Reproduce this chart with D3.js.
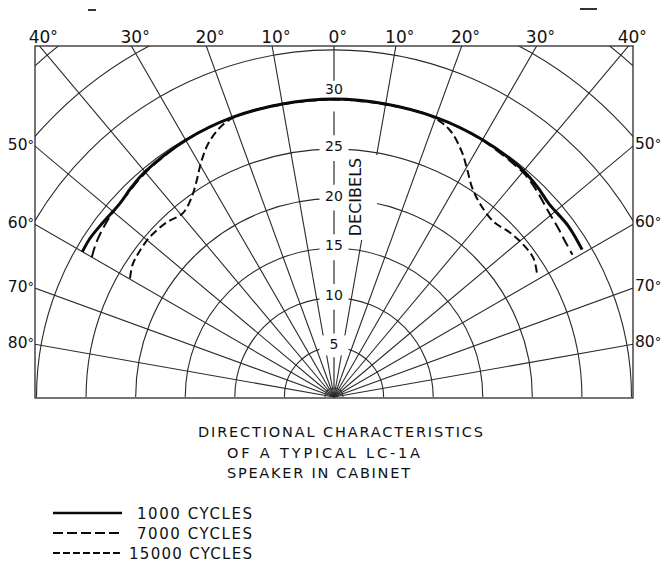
<!DOCTYPE html>
<html>
<head>
<meta charset="utf-8">
<script src="https://cdn.jsdelivr.net/npm/d3@7"></script>
<style>
  html, body { margin: 0; padding: 0; background: #fff; }
  svg text { font-family: "DejaVu Sans", "Liberation Sans", sans-serif; fill: #111; }
</style>
</head>
<body>
<svg id="chart" width="663" height="562"></svg>
<script>
// ---------------- DATA ----------------
const gridAngles = [-80, -70, -60, -50, -40, -30, -20, -10, 0, 10, 20, 30, 40, 50, 60, 70, 80];
const angleTickLabels = ["80", "70", "60", "50", "40", "30", "20", "10", "0", "10", "20", "30", "40", "50", "60", "70", "80"];
const gridCircles = [5, 10, 15, 20, 25, 30, 35, 40, 45];
const dbTicks = [5, 10, 15, 20, 25, 30];
const dbTickLabels = ["5", "10", "15", "20", "25", "30"];

const seriesNames = ["1000 CYCLES", "7000 CYCLES", "15000 CYCLES"];

const angles1000 = [-60, -57, -53, -48, -44, -40, -30, -20, -10, 0, 10, 20, 30, 39, 44, 48, 54, 59.3];
const db1000     = [29.3, 29.35, 29.2, 29.1, 29.4, 29.65, 29.9, 30, 30, 30.05, 30, 30, 29.95, 29.8, 29.5, 29.15, 29.25, 29.1];

const angles7000 = [-60, -56.8, -51.4, -45.7, -40, -30, -20, -10, 0, 10, 20, 30, 40, 42.4, 45, 49, 53, 56, 59.2];
const db7000     = [28.2, 28.6, 29.0, 29.2, 29.55, 29.9, 30, 30, 30, 30, 30, 29.9, 29.6, 29.4, 29.1, 28.6, 28.3, 28.1, 28.0];

const angles15000 = [-59.8, -56.7, -53.2, -48.9, -43.9, -39.4, -35.6, -32.5, -29.3, -25.9, -21.3, -15, 0, 15, 19.9, 23.6, 27.5, 30.1, 33.4, 37.2, 42.3, 47.1, 51.2, 55.2, 59.0];
const db15000     = [23.8, 24.3, 24.5, 24.6, 24.4, 24.0, 24.7, 25.8, 27.3, 28.7, 29.8, 30, 30, 30, 29.9, 29.3, 27.9, 26.7, 25.3, 24.4, 23.9, 24.3, 24.5, 24.5, 23.9];

const titleLines = ["DIRECTIONAL CHARACTERISTICS", "OF A TYPICAL LC-1A", "SPEAKER IN CABINET"];
const axisTitle = "DECIBELS";

// ---------------- LAYOUT ----------------
const svg = d3.select("#chart");
const cx = 334, cy = 397;
const box = { x0: 35, x1: 633, y0: 46, y1: 398 };
const r = d3.scaleLinear().domain([0, 30]).range([0, 297.5]);
const rad = d => d * Math.PI / 180;
const gridColor = "#2a2a2a";

svg.append("defs").append("clipPath").attr("id", "boxclip")
  .append("rect").attr("x", box.x0).attr("y", box.y0)
  .attr("width", box.x1 - box.x0).attr("height", box.y1 - box.y0);

const grid = svg.append("g").attr("clip-path", "url(#boxclip)");

// concentric circles (upper half)
const arcGen = d3.arc().startAngle(-Math.PI / 2).endAngle(Math.PI / 2);
grid.selectAll("path.circ").data(gridCircles).join("path")
  .attr("class", "circ")
  .attr("transform", `translate(${cx},${cy})`)
  .attr("d", d => arcGen({ innerRadius: r(d), outerRadius: r(d) }))
  .attr("fill", "none").attr("stroke", gridColor).attr("stroke-width", 1.1);

// small hub semicircle
grid.append("path")
  .attr("transform", `translate(${cx},${cy})`)
  .attr("d", arcGen({ innerRadius: 9, outerRadius: 9 }))
  .attr("fill", "none").attr("stroke", gridColor).attr("stroke-width", 1.1);

// white backgrounds behind scale labels (break the circles)
const labelBg = svg.append("g");
labelBg.selectAll("rect").data(dbTicks.filter(v => v !== 30)).join("rect")
  .attr("x", cx - 14.5).attr("width", 29)
  .attr("y", d => cy - r(d) - 12).attr("height", 20)
  .attr("fill", "#fff");
// background behind DECIBELS
labelBg.append("rect").attr("x", 347).attr("y", 155).attr("width", 30).attr("height", 85).attr("fill", "#fff");

// radial lines (0° handled separately as broken line)
const radialLen = 700;
grid.selectAll("line.rad").data(gridAngles.filter(a => a !== 0)).join("line")
  .attr("class", "rad")
  .attr("x1", cx).attr("y1", cy)
  .attr("x2", a => cx + radialLen * Math.sin(rad(a)))
  .attr("y2", a => cy - radialLen * Math.cos(rad(a)))
  .attr("stroke", gridColor).attr("stroke-width", 1.1);

// 0° line broken around the scale labels
const zeroSegs = [[0, dbTicks[0] - 1.0]];
for (let i = 0; i < dbTicks.length - 1; i++) zeroSegs.push([dbTicks[i] + 1.4, dbTicks[i] + 3.8]);
zeroSegs.push([dbTicks[dbTicks.length - 1] + 1.9, 40]);
grid.selectAll("line.zero").data(zeroSegs).join("line")
  .attr("class", "zero")
  .attr("x1", cx).attr("x2", cx)
  .attr("y1", d => cy - r(d[0])).attr("y2", d => cy - r(d[1]))
  .attr("stroke", gridColor).attr("stroke-width", 1.2);

// box frame
svg.append("rect").attr("x", box.x0).attr("y", box.y0)
  .attr("width", box.x1 - box.x0).attr("height", box.y1 - box.y0)
  .attr("fill", "none").attr("stroke", gridColor).attr("stroke-width", 1.3);

// ---------------- ANGLE LABELS ----------------
const angLab = svg.append("g").attr("font-size", 17);
gridAngles.forEach((a, i) => {
  const txt = angleTickLabels[i];
  if (Math.abs(a) <= 40) {
    const x = cx + (cy - box.y0) * Math.tan(rad(a));
    const t = angLab.append("text").attr("x", x).attr("y", 43).attr("text-anchor", "middle").text(txt);
    const w = t.node().getComputedTextLength();
    angLab.append("text").attr("x", x + w / 2).attr("y", 42).attr("font-size", 15).text("°");
  } else {
    const dx = a < 0 ? cx - box.x0 : box.x1 - cx;
    const y = cy - dx / Math.tan(rad(Math.abs(a)));
    if (a < 0) {
      angLab.append("text").attr("x", box.x0 - 1).attr("y", y + 4).attr("text-anchor", "end")
        .attr("font-size", 15.5)
        .text(txt).append("tspan").attr("font-size", 13).attr("dy", -1).text("°");
    } else {
      angLab.append("text").attr("x", box.x1 + 2).attr("y", y + 3).attr("text-anchor", "start")
        .attr("font-size", 15.5)
        .text(txt).append("tspan").attr("font-size", 13).attr("dy", -1).text("°");
    }
  }
});

// ---------------- SCALE LABELS ----------------
svg.append("g").attr("font-size", 14).selectAll("text").data(dbTicks).join("text")
  .attr("x", cx).attr("text-anchor", "middle")
  .attr("y", d => d === 30 ? cy - r(d) - 5.5 : cy - r(d) + 2)
  .text((d, i) => dbTickLabels[i]);

svg.append("text").attr("transform", "translate(361,197) rotate(-90)")
  .attr("text-anchor", "middle").attr("font-size", 16).text(axisTitle);

// ---------------- DATA CURVES ----------------
const zip = (as, vs) => as.map((a, i) => ({ a, v: vs[i] }));
const radial = d3.lineRadial()
  .angle(d => rad(d.a)).radius(d => r(d.v))
  .curve(d3.curveCatmullRom.alpha(0.5));

const seriesStyles = [
  { w: 3.0, dash: null },
  { w: 2.0, dash: "11,5" },
  { w: 2.0, dash: "8,4" }
];
const seriesData = [zip(angles7000, db7000), zip(angles15000, db15000), zip(angles1000, db1000)];
const seriesStyleOrder = [seriesStyles[1], seriesStyles[2], seriesStyles[0]];

const curves = svg.append("g").attr("transform", `translate(${cx},${cy})`);
seriesData.forEach((pts, i) => {
  const s = seriesStyleOrder[i];
  curves.append("path").attr("d", radial(pts))
    .attr("fill", "none").attr("stroke", "#0a0a0a")
    .attr("stroke-width", s.w)
    .attr("stroke-dasharray", s.dash)
    .attr("stroke-linecap", "butt");
});

// ---------------- TITLE ----------------
const title = svg.append("g").attr("font-size", 14.5);
const titlePos = [{ x: 198, y: 437, w: 285 }, { x: 227, y: 458, w: 193 }, { x: 227, y: 478, w: 183 }];
titleLines.forEach((t, i) => {
  title.append("text").attr("x", titlePos[i].x).attr("y", titlePos[i].y)
    .attr("textLength", titlePos[i].w).attr("lengthAdjust", "spacing").text(t);
});

// ---------------- LEGEND ----------------
const legend = svg.append("g");
const legPos = [{ y: 513, tx: 137 }, { y: 533, tx: 137 }, { y: 553, tx: 129 }];
const legendDash = [null, "10,4", "7,3"];
seriesNames.forEach((name, i) => {
  legend.append("line").attr("x1", 53).attr("x2", 122).attr("y1", legPos[i].y).attr("y2", legPos[i].y)
    .attr("stroke", "#0a0a0a").attr("stroke-width", i === 0 ? 2.5 : 2.2)
    .attr("stroke-dasharray", legendDash[i]);
  legend.append("text").attr("x", legPos[i].tx).attr("y", legPos[i].y + 5.5)
    .attr("font-size", 15).attr("textLength", 252 - legPos[i].tx).attr("lengthAdjust", "spacing")
    .text(name);
});

// small scan marks above the frame
svg.append("line").attr("x1", 88).attr("x2", 96).attr("y1", 10).attr("y2", 10).attr("stroke", "#333").attr("stroke-width", 2);
svg.append("line").attr("x1", 580).attr("x2", 597).attr("y1", 9).attr("y2", 9).attr("stroke", "#333").attr("stroke-width", 2);
</script>
</body>
</html>
